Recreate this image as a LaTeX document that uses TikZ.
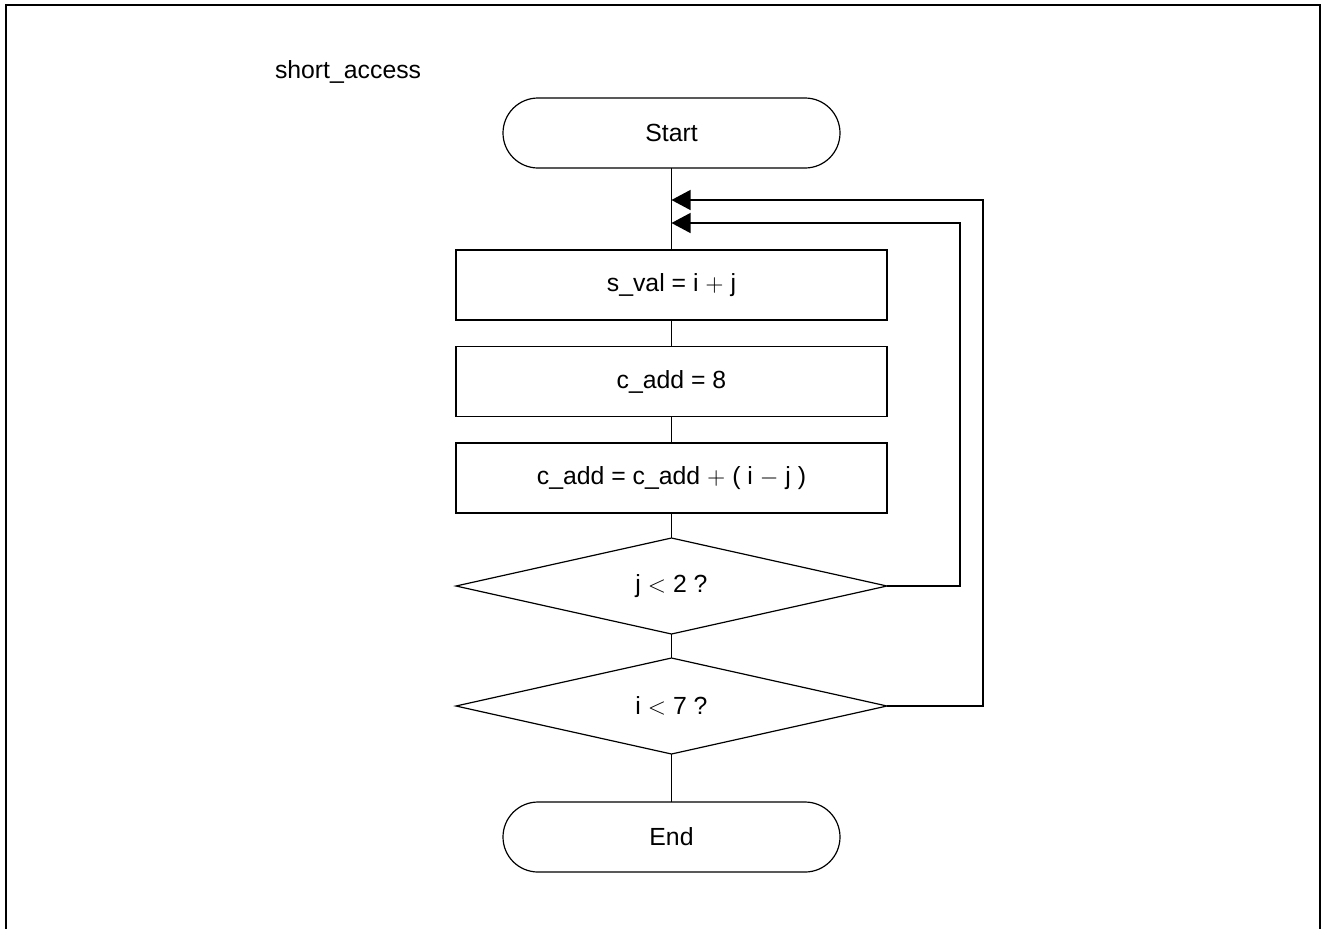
\documentclass[tikz,border=0pt]{standalone}
\usepackage{fontspec}
\setmainfont{Liberation Sans}
\usetikzlibrary{shapes.geometric,arrows.meta}
\newcommand{\symop}[1]{\ensuremath{#1}}
\begin{document}
\begin{tikzpicture}[x=0.5pt,y=-0.5pt,
  every node/.style={font=\fontsize{12.4pt}{14pt}\selectfont, inner sep=0pt, outer sep=0pt},
  ln/.style={line width=0.6pt},
  term/.style={ln, draw, rounded corners=17.5pt, minimum width=168.5pt, minimum height=35pt},
  proc/.style={ln, draw, minimum width=215.5pt, minimum height=35pt},
  dec/.style={ln, draw, diamond, minimum width=215.5pt, minimum height=48pt},
  arr/.style={ln, -{Triangle[length=9.5pt,width=10pt]}}]
\useasboundingbox (0,0) rectangle (1322,928);
\draw[line width=1.3pt] (6,940) -- (6,5) -- (1320,5) -- (1320,940);
\node[anchor=west] (title) at (275,72) {short\_access};
\node[term] (start) at (671.5,133) {Start};
\node[proc] (b1) at (671.5,285) {s\_val = i \symop{+} j};
\node[proc] (b2) at (671.5,381.5) {c\_add = 8};
\node[proc] (b3) at (671.5,478) {c\_add = c\_add \symop{+} ( i \symop{-} j )};
\node[dec] (d1) at (671.5,586) {j \symop{<} 2 ?};
\node[dec] (d2) at (671.5,706) {i \symop{<} 7 ?};
\node[term] (end) at (671.5,837) {End};
\coordinate (m2) at (671.5,200);
\coordinate (m1) at (671.5,223);
\draw[ln] (start) -- (b1);
\draw[ln] (b1) -- (b2);
\draw[ln] (b2) -- (b3);
\draw[ln] (b3) -- (d1);
\draw[ln] (d1) -- (d2);
\draw[ln] (d2) -- (end);
\draw[arr] (d1.east) -- (960,586) |- (m1);
\draw[arr] (d2.east) -- (983,706) |- (m2);
\end{tikzpicture}
\end{document}
